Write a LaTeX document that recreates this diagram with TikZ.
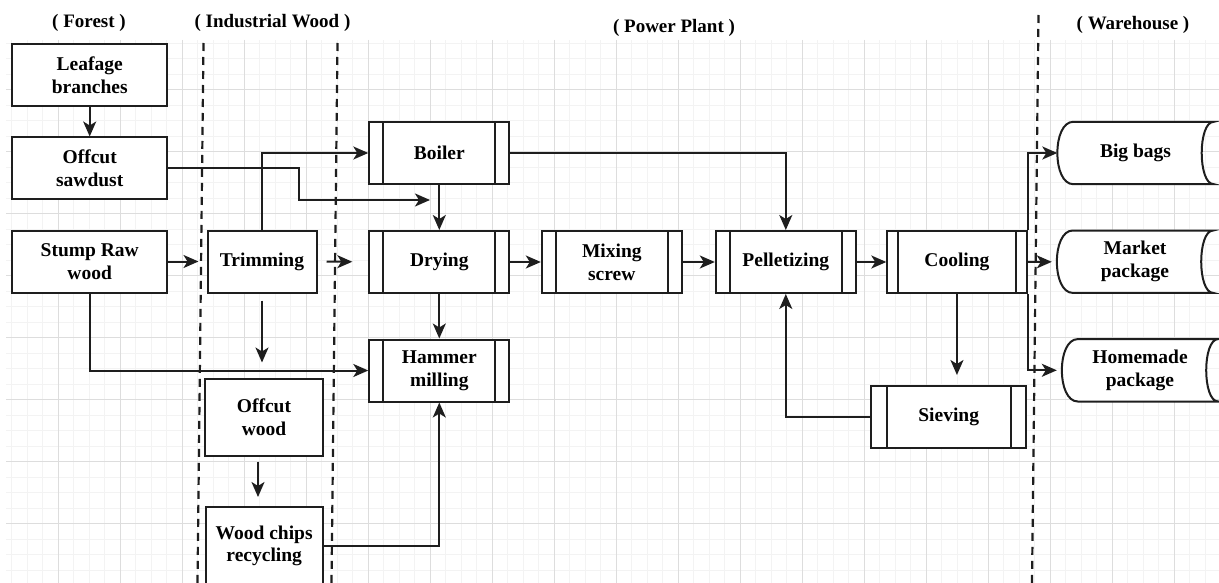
\documentclass[tikz,border=0pt]{standalone}
\usepackage{fontspec}
\setmainfont{Liberation Serif}
\usetikzlibrary{arrows.meta,positioning,backgrounds}
\definecolor{inkline}{RGB}{30,30,30}
\definecolor{gridmajor}{RGB}{221,221,221}
\definecolor{gridminor}{RGB}{243,243,243}

\begin{document}
\begin{tikzpicture}[
  x=1pt, y=-1pt,
  >={Stealth[length=15pt, width=13pt, inset=4pt]},
  every node/.style={font=\fontsize{19.5}{22.7}\selectfont\bfseries},
  box/.style={draw=inkline, line width=2pt, fill=white,
              minimum width=155pt, minimum height=62pt, align=center, inner sep=2pt},
  proc/.style={box, minimum width=140pt, path picture={
      \draw[inkline, line width=2pt]
        ([xshift=#1]path picture bounding box.north west) -- ([xshift=#1]path picture bounding box.south west)
        ([xshift=-#1]path picture bounding box.north east) -- ([xshift=-#1]path picture bounding box.south east);}},
  proc/.default=14pt,
  store/.style={minimum width=156pt, minimum height=62pt, align=center, inner sep=2pt},
  flow/.style={->, inkline, line width=2pt},
  zone/.style={inkline, line width=2.2pt, dash pattern=on 8pt off 6pt},
  head/.style={font=\fontsize{19}{22}\selectfont\bfseries},
]
\useasboundingbox (0,0) rectangle (1219,583);

% column headers
\node[head] (forest) at (89,23) {( Forest )};
\node[head] (indus) at (272.5,23) {( Industrial Wood )};
\node[head] (power) at (674,28) {( Power Plant )};
\node[head] (wareh) at (1133,25) {( Warehouse )};

% forest
\node[box] (leaf) at (89.7,75.5) {Leafage\\branches};
\node[box, below=29pt of leaf] (sawdust) {Offcut\\sawdust};
\node[box, below=29pt of sawdust] (stump) {Stump Raw\\wood};

% industrial wood
\node[box, minimum width=109pt] (trim) at (262,261.5) {Trimming};
\node[box, minimum width=118pt, minimum height=77pt] (offwood) at (264,417) {Offcut\\wood};
\node[box, minimum width=117pt, minimum height=78pt] (chips) at (264.2,546) {Wood chips\\recycling};

% power plant
\node[proc] (boiler) at (439.3,153) {Boiler};
\node[proc, below=45pt of boiler] (dry) {Drying};
\node[proc, below=44.5pt of dry] (hammer) {Hammer\\milling};
\node[proc, right=30.5pt of dry] (mix) {Mixing\\screw};
\node[proc, right=32pt of mix] (pel) {Pelletizing};
\node[proc=11pt, minimum width=139.3pt, right=29.5pt of pel] (cool) {Cooling};
\node[proc=15.5pt, minimum width=155.3pt] (sieve) at (948.7,417) {Sieving};

% warehouse
\node[store] (bags) at (1135.5,153) {Big bags};
\node[store] (market) at (1135,261.7) {Market\\package};
\node[store] (home) at (1140,370.3) {Homemade\\package};

\begin{scope}[on background layer]
  \begin{scope}
    \clip (6,40) rectangle (1219,583);
    \foreach \gx in {-3.7,11.8,...,1225} \draw[gridminor, line width=1pt] (\gx,40) -- (\gx,583);
    \foreach \gy in {43.2,58.7,...,590} \draw[gridminor, line width=1pt] (6,\gy) -- (1219,\gy);
    \foreach \gx in {-3.7,58.3,...,1225} \draw[gridmajor, line width=1pt] (\gx,40) -- (\gx,583);
    \foreach \gy in {27.7,89.7,...,590} \draw[gridmajor, line width=1pt] (6,\gy) -- (1219,\gy);
  \end{scope}
  \foreach \n in {bags,market,home}
    \draw[inkline, line width=2pt, fill=white]
      ([xshift=16pt]\n.north west) -- (\n.north east)
      .. controls ([xshift=-16pt]\n.north east) and ([xshift=-16pt]\n.south east) .. (\n.south east)
      -- ([xshift=16pt]\n.south west)
      .. controls ([xshift=-5.3pt]\n.south west) and ([xshift=-5.3pt]\n.north west) .. cycle;
\end{scope}

% connectors
\draw[flow] (leaf) -- (sawdust);
\draw[flow, shorten >=8pt] (stump) -- (trim);
\draw[flow] (stump) |- (hammer);
\draw[flow] (trim) |- (boiler);
\draw[flow, shorten <=9pt, shorten >=16pt] (trim) -- (dry);
\draw[flow, shorten <=7pt, shorten >=15pt] (trim) -- (trim |- offwood.north);
\draw[flow, shorten <=5pt, shorten >=9pt] ([xshift=-6pt]offwood.south) -- ([xshift=-6pt]offwood.south |- chips.north);
\draw[flow] (chips) -| (hammer);
\coordinate (sawjoin) at (430,200);
\draw[flow] (sawdust.east) -- ++(131,0) |- (sawjoin);

\draw[flow] (boiler) -- (dry);
\draw[flow] (dry) -- (hammer);
\draw[flow] (dry) -- (mix);
\draw[flow] (mix) -- (pel);
\draw[flow] (pel) -- (cool);
\draw[flow] (boiler) -| (pel);
\draw[flow, shorten >=10pt] (cool) -- (cool |- sieve.north);
\draw[flow] (sieve) -| (pel);

\draw[flow] (cool.north east) |- (bags);
\draw[flow, shorten >=5pt] (cool) -- (market);
\draw[flow, shorten >=5pt] (cool.south east) |- (home);

% zone dividers
\draw[zone] (203.5,43) -- (197.5,583);
\draw[zone] (337.5,43) -- (331.5,583);
\draw[zone] (1038.5,15) -- (1032,583);
\end{tikzpicture}
\end{document}
